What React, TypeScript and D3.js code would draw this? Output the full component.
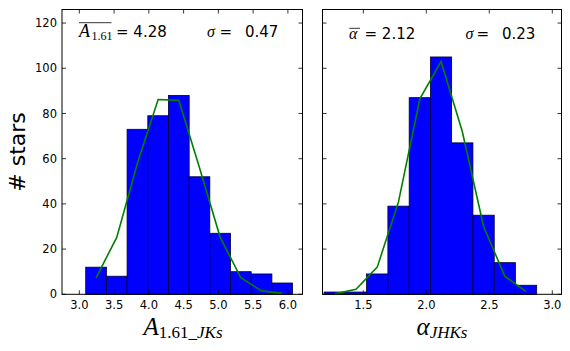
import React from "react";
import * as d3 from "d3";

// ---- data ----
const leftEdges = [3.092, 3.39, 3.687, 3.985, 4.282, 4.58, 4.877, 5.175, 5.472, 5.77, 6.067];
const leftCounts = [12, 8, 73, 79, 88, 52, 27, 10, 9, 5];
const leftFit = [7.3, 25.2, 58, 86.2, 85.8, 56, 25.2, 7.3, 1.5, 0.4];
const leftXTicks = [3.0, 3.5, 4.0, 4.5, 5.0, 5.5, 6.0];

const rightEdges = [1.189, 1.358, 1.526, 1.695, 1.864, 2.033, 2.201, 2.37, 2.539, 2.707, 2.876];
const rightCounts = [1, 1, 9, 39, 87, 105, 67, 35, 14, 4];
const rightFit = [0.2, 2.2, 12, 41, 86.5, 103, 72, 30, 8, 1.2];
const rightXTicks = [1.5, 2.0, 2.5, 3.0];

const yTicks = [0, 20, 40, 60, 80, 100, 120];

const W = 570;
const H = 351;
const TOP = 9.5;
const BOTTOM = 294.3;
const SANS = "'DejaVu Sans', sans-serif";
const SERIF = "'Liberation Serif', 'DejaVu Serif', serif";

type PanelProps = {
  x0: number;
  x1: number;
  domain: [number, number];
  edges: number[];
  counts: number[];
  fit: number[];
  xTicks: number[];
  showYLabels: boolean;
};

function Panel({ x0, x1, domain, edges, counts, fit, xTicks, showYLabels }: PanelProps) {
  const x = d3.scaleLinear().domain(domain).range([x0, x1]);
  const y = d3.scaleLinear().domain([0, 126]).range([BOTTOM, TOP]);
  const centers = counts.map((_, i) => (edges[i] + edges[i + 1]) / 2);
  const line = d3
    .line<number>()
    .x((_, i) => x(centers[i]))
    .y((d) => y(d));
  const tl = 4;
  return (
    <g>
      {counts.map((c, i) => (
        <rect
          key={i}
          x={x(edges[i])}
          y={y(c)}
          width={x(edges[i + 1]) - x(edges[i])}
          height={y(0) - y(c)}
          fill="#0000ff"
          stroke="#000033"
          strokeWidth={0.8}
        />
      ))}
      <path d={line(fit) || ""} fill="none" stroke="#008000" strokeWidth={1.6} />
      {/* frame */}
      <rect x={x0} y={TOP} width={x1 - x0} height={BOTTOM - TOP} fill="none" stroke="#000" strokeWidth={1} />
      {/* y ticks */}
      {yTicks.map((t) => (
        <g key={"y" + t}>
          <line x1={x0} x2={x0 + tl} y1={y(t)} y2={y(t)} stroke="#000" strokeWidth={0.8} />
          <line x1={x1} x2={x1 - tl} y1={y(t)} y2={y(t)} stroke="#000" strokeWidth={0.8} />
          {showYLabels && (
            <text
              x={x0 - 5}
              y={y(t)}
              dy="0.36em"
              textAnchor="end"
              fontFamily={SANS}
              fontSize={11.5}
              fill="#000"
            >
              {t}
            </text>
          )}
        </g>
      ))}
      {/* x ticks */}
      {xTicks.map((t) => (
        <g key={"x" + t}>
          <line x1={x(t)} x2={x(t)} y1={BOTTOM} y2={BOTTOM - tl} stroke="#000" strokeWidth={0.8} />
          <line x1={x(t)} x2={x(t)} y1={TOP} y2={TOP + tl} stroke="#000" strokeWidth={0.8} />
          <text
            x={x(t)}
            y={BOTTOM + 15}
            textAnchor="middle"
            fontFamily={SANS}
            fontSize={11.5}
            fill="#000"
          >
            {t.toFixed(1)}
          </text>
        </g>
      ))}
    </g>
  );
}

export default function App() {
  return (
    <svg
      width={W}
      height={H}
      style={{ position: "absolute", left: 0, top: 0, background: "#fff" }}
    >
      <rect x={0} y={0} width={W} height={H} fill="#fff" />
      <Panel
        x0={62}
        x1={302.5}
        domain={[2.751, 6.21]}
        edges={leftEdges}
        counts={leftCounts}
        fit={leftFit}
        xTicks={leftXTicks}
        showYLabels={true}
      />
      <Panel
        x0={322.5}
        x1={561.5}
        domain={[1.176, 3.073]}
        edges={rightEdges}
        counts={rightCounts}
        fit={rightFit}
        xTicks={rightXTicks}
        showYLabels={false}
      />

      {/* y label */}
      <text
        transform="translate(25,152) rotate(-90)"
        textAnchor="middle"
        fontFamily={SANS}
        fontSize={22}
        fill="#000"
      >
        # stars
      </text>

      {/* left annotation */}
      <line x1={79} x2={111.5} y1={22.7} y2={22.7} stroke="#000" strokeWidth={0.8} />
      <text x={79} y={36.5} fontFamily={SERIF} fontStyle="italic" fontSize={18} fill="#000">
        A
      </text>
      <text x={91.5} y={39.5} fontFamily={SERIF} fontSize={12} fill="#000">
        1.61
      </text>
      <text x={116} y={36.5} fontFamily={SANS} fontSize={15} fill="#000">
        = 4.28
      </text>
      <text x={207} y={36.5} fontFamily={SERIF} fontStyle="italic" fontSize={16} fill="#000">
        σ
      </text>
      <text x={219.5} y={36.5} fontFamily={SANS} fontSize={15} fill="#000">
        =
      </text>
      <text x={245} y={36.5} fontFamily={SANS} fontSize={15} fill="#000">
        0.47
      </text>

      {/* right annotation */}
      <line x1={349.3} x2={360} y1={28.3} y2={28.3} stroke="#000" strokeWidth={0.8} />
      <text x={349} y={38.7} fontFamily={SERIF} fontStyle="italic" fontSize={16} fill="#000">
        α
      </text>
      <text x={364.5} y={38.7} fontFamily={SANS} fontSize={15} fill="#000">
        = 2.12
      </text>
      <text x={465.5} y={38.7} fontFamily={SERIF} fontStyle="italic" fontSize={16} fill="#000">
        σ
      </text>
      <text x={476.5} y={38.7} fontFamily={SANS} fontSize={15} fill="#000">
        =
      </text>
      <text x={502} y={38.7} fontFamily={SANS} fontSize={15} fill="#000">
        0.23
      </text>

      {/* x labels */}
      <text x={183} y={335} textAnchor="middle" fill="#000" fontFamily={SERIF}>
        <tspan fontStyle="italic" fontSize={25}>A</tspan>
        <tspan fontSize={17} dy={3}>1.61_</tspan>
        <tspan fontSize={17} fontStyle="italic">JKs</tspan>
      </text>
      <text x={442} y={335} textAnchor="middle" fill="#000" fontFamily={SERIF}>
        <tspan fontStyle="italic" fontSize={25}>α</tspan>
        <tspan fontSize={17} dy={3} fontStyle="italic">JHKs</tspan>
      </text>
    </svg>
  );
}
